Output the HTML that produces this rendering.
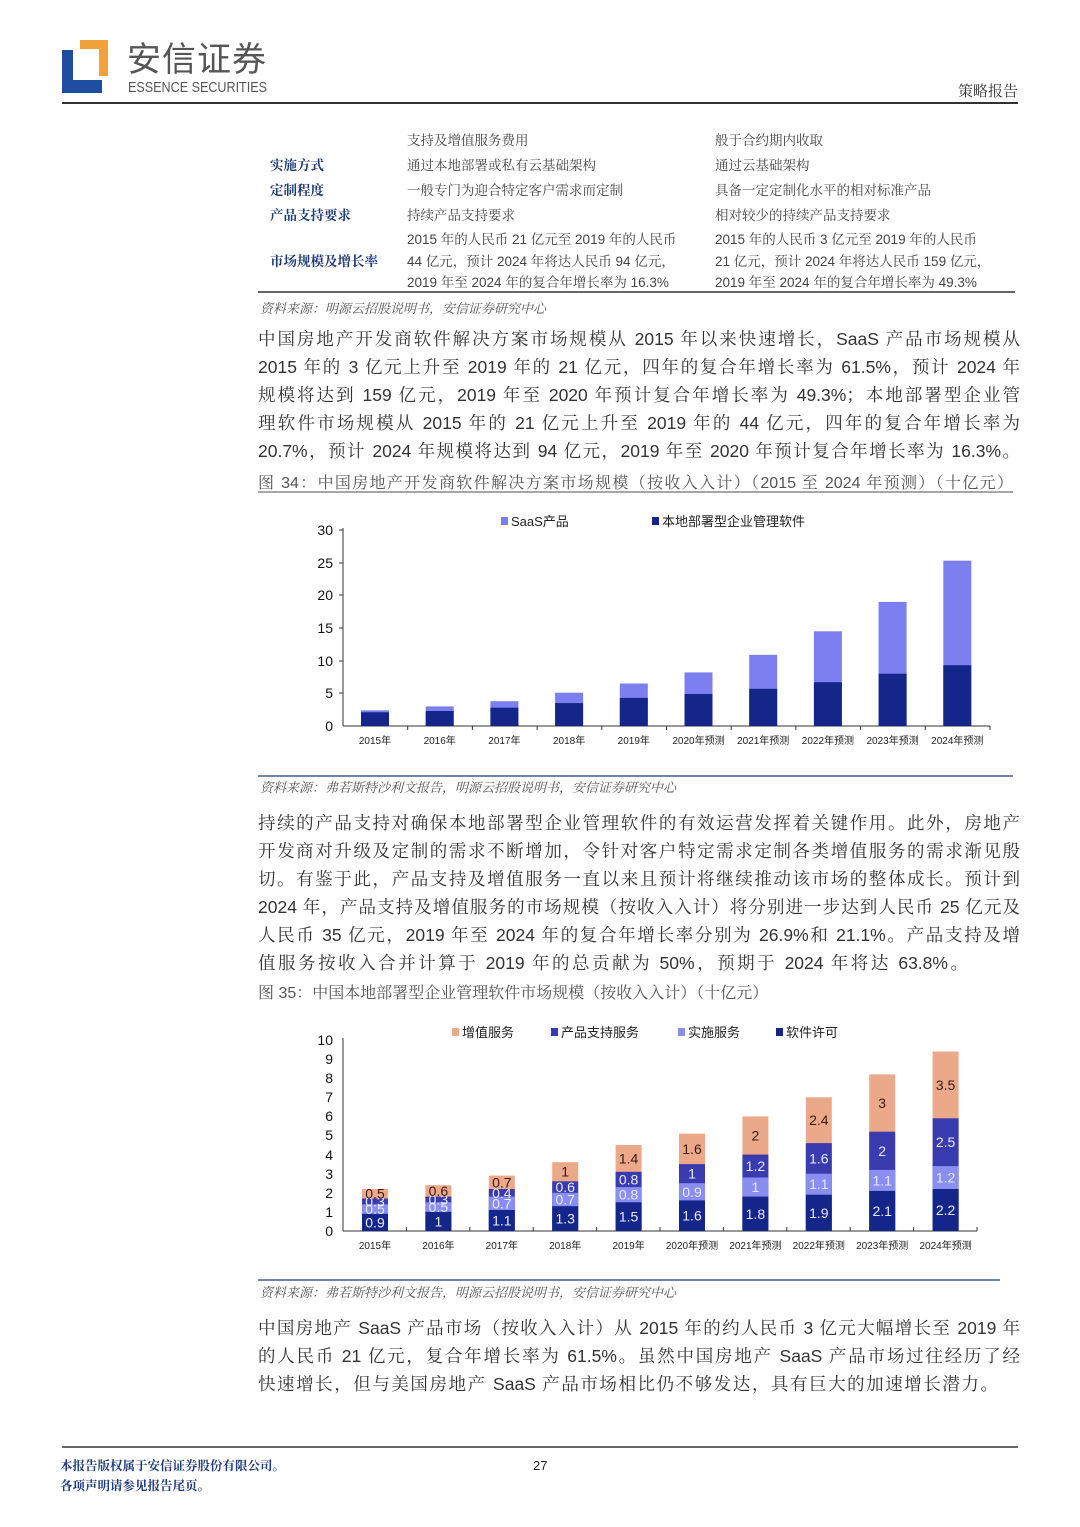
<!DOCTYPE html>
<html><head><meta charset="utf-8">
<style>
*{margin:0;padding:0;box-sizing:border-box}
body{width:1080px;height:1527px;position:relative;background:#fff;font-family:"Liberation Sans","Noto Serif CJK SC","Noto Sans CJK SC",sans-serif;color:#333;overflow:hidden}
.a{position:absolute;white-space:nowrap}
.p{position:absolute;left:258px;width:762px;font-size:17.5px;line-height:28px;color:#333;text-align:justify;text-align-last:justify;white-space:nowrap}
.t{font-size:13.5px;color:#444}
.h{font-size:13.5px;color:#1f3a7a;font-weight:bold}
.src{font-size:13px;color:#555;font-style:italic}
.cap{font-size:16px;color:#555}
svg{position:absolute;left:0;top:0}
</style></head><body>
<svg width="1080" height="1527" xmlns="http://www.w3.org/2000/svg" font-family="Liberation Sans, Noto Sans CJK SC, sans-serif">
<rect x="62" y="80" width="40" height="13" fill="#1f4ea0"/>
<rect x="62" y="50" width="11" height="43" fill="#1f4ea0"/>
<rect x="80" y="40" width="28" height="9" fill="#f2a23a"/>
<rect x="99" y="40" width="9" height="36" fill="#f2a23a"/>
<line x1="62" y1="103" x2="1018" y2="103" stroke="#333" stroke-width="2"/>
<line x1="258" y1="292" x2="1015" y2="292" stroke="#333" stroke-width="1.5"/>
<line x1="258" y1="492" x2="1013" y2="492" stroke="#888" stroke-width="1.5"/>
<line x1="258" y1="776" x2="1013" y2="776" stroke="#1f3a7a" stroke-width="1.2"/>
<line x1="258" y1="1280" x2="1000" y2="1280" stroke="#1f3a7a" stroke-width="1.2"/>
<line x1="62" y1="1447" x2="1018" y2="1447" stroke="#333" stroke-width="1.5"/>

<g font-size="14" fill="#111" text-anchor="end">
<text x="333" y="535">30</text><text x="333" y="568">25</text><text x="333" y="600">20</text><text x="333" y="633">15</text><text x="333" y="666">10</text><text x="333" y="698">5</text><text x="333" y="731">0</text>
</g>
<line x1="343" y1="528" x2="343" y2="726" stroke="#333"/>
<line x1="343" y1="726" x2="990" y2="726" stroke="#333"/>
<g stroke="#333">
<line x1="339" y1="530" x2="343" y2="530"/><line x1="339" y1="563" x2="343" y2="563"/><line x1="339" y1="595" x2="343" y2="595"/><line x1="339" y1="628" x2="343" y2="628"/><line x1="339" y1="661" x2="343" y2="661"/><line x1="339" y1="693" x2="343" y2="693"/>
<line x1="407.7" y1="726" x2="407.7" y2="730"/><line x1="472.4" y1="726" x2="472.4" y2="730"/><line x1="537.1" y1="726" x2="537.1" y2="730"/><line x1="601.8" y1="726" x2="601.8" y2="730"/><line x1="666.5" y1="726" x2="666.5" y2="730"/><line x1="731.2" y1="726" x2="731.2" y2="730"/><line x1="795.9" y1="726" x2="795.9" y2="730"/><line x1="860.6" y1="726" x2="860.6" y2="730"/><line x1="925.3" y1="726" x2="925.3" y2="730"/><line x1="990" y1="726" x2="990" y2="730"/>
</g>
<g fill="#7b7ff0">
<rect x="361" y="710.3" width="28" height="15.7"/><rect x="425.7" y="706.4" width="28" height="19.6"/><rect x="490.4" y="701.2" width="28" height="24.8"/><rect x="555.1" y="692.7" width="28" height="33.3"/><rect x="619.8" y="683.5" width="28" height="42.5"/><rect x="684.5" y="672.4" width="28" height="53.6"/><rect x="749.2" y="654.8" width="28" height="71.2"/><rect x="813.9" y="631.3" width="28" height="94.7"/><rect x="878.6" y="601.9" width="28" height="124.1"/><rect x="943.3" y="560.7" width="28" height="165.3"/>
</g>
<g fill="#14268a">
<rect x="361" y="712.3" width="28" height="13.7"/><rect x="425.7" y="711" width="28" height="15"/><rect x="490.4" y="707.7" width="28" height="18.3"/><rect x="555.1" y="703.1" width="28" height="22.9"/><rect x="619.8" y="697.9" width="28" height="28.1"/><rect x="684.5" y="694" width="28" height="32"/><rect x="749.2" y="688.8" width="28" height="37.2"/><rect x="813.9" y="682.2" width="28" height="43.8"/><rect x="878.6" y="673.7" width="28" height="52.3"/><rect x="943.3" y="665.2" width="28" height="60.8"/>
</g>
<g font-size="10" fill="#222" text-anchor="middle">
<text x="375" y="744">2015年</text><text x="439.7" y="744">2016年</text><text x="504.4" y="744">2017年</text><text x="569.1" y="744">2018年</text><text x="633.8" y="744">2019年</text><text x="698.5" y="744">2020年预测</text><text x="763.2" y="744">2021年预测</text><text x="827.9" y="744">2022年预测</text><text x="892.6" y="744">2023年预测</text><text x="957.3" y="744">2024年预测</text>
</g>
<rect x="501" y="517" width="7" height="8" fill="#7b7ff0"/>
<text x="511" y="526" font-size="13" fill="#222">SaaS产品</text>
<rect x="652" y="517" width="7" height="8" fill="#14268a"/>
<text x="662" y="526" font-size="13" fill="#222">本地部署型企业管理软件</text>

<g font-size="14" fill="#111" text-anchor="end">
<text x="333" y="1045">10</text><text x="333" y="1064">9</text><text x="333" y="1083">8</text><text x="333" y="1102">7</text><text x="333" y="1121">6</text><text x="333" y="1140">5</text><text x="333" y="1160">4</text><text x="333" y="1179">3</text><text x="333" y="1198">2</text><text x="333" y="1217">1</text><text x="333" y="1236">0</text>
</g>
<line x1="343" y1="1038" x2="343" y2="1231" stroke="#333"/>
<line x1="343" y1="1231" x2="977" y2="1231" stroke="#333"/>
<g stroke="#333">
<line x1="406.4" y1="1231" x2="406.4" y2="1227"/><line x1="469.8" y1="1231" x2="469.8" y2="1227"/><line x1="533.2" y1="1231" x2="533.2" y2="1227"/><line x1="596.6" y1="1231" x2="596.6" y2="1227"/><line x1="660" y1="1231" x2="660" y2="1227"/><line x1="723.4" y1="1231" x2="723.4" y2="1227"/><line x1="786.8" y1="1231" x2="786.8" y2="1227"/><line x1="850.2" y1="1231" x2="850.2" y2="1227"/><line x1="913.6" y1="1231" x2="913.6" y2="1227"/><line x1="977" y1="1231" x2="977" y2="1227"/>
</g>
<g fill="#eba98a">
<rect x="362" y="1189" width="26" height="42"/><rect x="425.4" y="1185.2" width="26" height="45.8"/><rect x="488.8" y="1175.6" width="26" height="55.4"/><rect x="552.2" y="1162.2" width="26" height="68.8"/><rect x="615.6" y="1145" width="26" height="86"/><rect x="679" y="1133.6" width="26" height="97.4"/><rect x="742.4" y="1116.4" width="26" height="114.6"/><rect x="805.8" y="1097.3" width="26" height="133.7"/><rect x="869.2" y="1074.4" width="26" height="156.6"/><rect x="932.6" y="1051.5" width="26" height="179.5"/>
</g>
<g fill="#3b3bb0">
<rect x="362" y="1198.5" width="26" height="32.5"/><rect x="425.4" y="1196.6" width="26" height="34.4"/><rect x="488.8" y="1189" width="26" height="42"/><rect x="552.2" y="1181.3" width="26" height="49.7"/><rect x="615.6" y="1171.8" width="26" height="59.2"/><rect x="679" y="1164.1" width="26" height="66.9"/><rect x="742.4" y="1154.6" width="26" height="76.4"/><rect x="805.8" y="1143.1" width="26" height="87.9"/><rect x="869.2" y="1131.7" width="26" height="99.3"/><rect x="932.6" y="1118.3" width="26" height="112.7"/>
</g>
<g fill="#8a8ef0">
<rect x="362" y="1204.3" width="26" height="26.7"/><rect x="425.4" y="1202.3" width="26" height="28.7"/><rect x="488.8" y="1196.6" width="26" height="34.4"/><rect x="552.2" y="1192.8" width="26" height="38.2"/><rect x="615.6" y="1187.1" width="26" height="43.9"/><rect x="679" y="1183.2" width="26" height="47.8"/><rect x="742.4" y="1177.5" width="26" height="53.5"/><rect x="805.8" y="1173.7" width="26" height="57.3"/><rect x="869.2" y="1169.9" width="26" height="61.1"/><rect x="932.6" y="1166.1" width="26" height="64.9"/>
</g>
<g fill="#14268a">
<rect x="362" y="1213.8" width="26" height="17.2"/><rect x="425.4" y="1211.9" width="26" height="19.1"/><rect x="488.8" y="1210" width="26" height="21"/><rect x="552.2" y="1206.2" width="26" height="24.8"/><rect x="615.6" y="1202.3" width="26" height="28.7"/><rect x="679" y="1200.4" width="26" height="30.6"/><rect x="742.4" y="1196.6" width="26" height="34.4"/><rect x="805.8" y="1194.7" width="26" height="36.3"/><rect x="869.2" y="1190.9" width="26" height="40.1"/><rect x="932.6" y="1189" width="26" height="42"/>
</g>
<g font-size="14" text-anchor="middle" fill="#e8eaff">
<text x="375" y="1227.4">0.9</text><text x="375" y="1214">0.5</text><text x="375" y="1206.4">0.3</text>
<text x="438.4" y="1226.4">1</text><text x="438.4" y="1212.1">0.5</text><text x="438.4" y="1204.4">0.3</text>
<text x="501.8" y="1225.5">1.1</text><text x="501.8" y="1208.3">0.7</text><text x="501.8" y="1197.8">0.4</text>
<text x="565.2" y="1223.6">1.3</text><text x="565.2" y="1204.5">0.7</text><text x="565.2" y="1192">0.6</text>
<text x="628.6" y="1221.7">1.5</text><text x="628.6" y="1199.7">0.8</text><text x="628.6" y="1184.4">0.8</text>
<text x="692" y="1220.7">1.6</text><text x="692" y="1196.8">0.9</text><text x="692" y="1178.6">1</text>
<text x="755.4" y="1218.8">1.8</text><text x="755.4" y="1192">1</text><text x="755.4" y="1171">1.2</text>
<text x="818.8" y="1217.8">1.9</text><text x="818.8" y="1189.2">1.1</text><text x="818.8" y="1163.4">1.6</text>
<text x="882.2" y="1215.9">2.1</text><text x="882.2" y="1185.4">1.1</text><text x="882.2" y="1155.8">2</text>
<text x="945.6" y="1215">2.2</text><text x="945.6" y="1182.5">1.2</text><text x="945.6" y="1147.2">2.5</text>
</g>
<g font-size="14" text-anchor="middle" fill="#3a1a10">
<text x="375" y="1198.7">0.5</text><text x="438.4" y="1195.9">0.6</text><text x="501.8" y="1187.3">0.7</text><text x="565.2" y="1176.7">1</text><text x="628.6" y="1163.4">1.4</text><text x="692" y="1153.8">1.6</text><text x="755.4" y="1140.5">2</text><text x="818.8" y="1125.2">2.4</text><text x="882.2" y="1108">3</text><text x="945.6" y="1089.9">3.5</text>
</g>
<g font-size="10" fill="#222" text-anchor="middle">
<text x="375" y="1249">2015年</text><text x="438.4" y="1249">2016年</text><text x="501.8" y="1249">2017年</text><text x="565.2" y="1249">2018年</text><text x="628.6" y="1249">2019年</text><text x="692" y="1249">2020年预测</text><text x="755.4" y="1249">2021年预测</text><text x="818.8" y="1249">2022年预测</text><text x="882.2" y="1249">2023年预测</text><text x="945.6" y="1249">2024年预测</text>
</g>
<rect x="452" y="1028" width="7" height="8" fill="#eba98a"/><text x="462" y="1037" font-size="13" fill="#222">增值服务</text>
<rect x="551" y="1028" width="7" height="8" fill="#3b3bb0"/><text x="561" y="1037" font-size="13" fill="#222">产品支持服务</text>
<rect x="678" y="1028" width="7" height="8" fill="#8a8ef0"/><text x="688" y="1037" font-size="13" fill="#222">实施服务</text>
<rect x="776" y="1028" width="7" height="8" fill="#14268a"/><text x="786" y="1037" font-size="13" fill="#222">软件许可</text>
<text x="128" y="92" font-size="15" fill="#555" textLength="139" lengthAdjust="spacingAndGlyphs">ESSENCE SECURITIES</text>
</svg>

<div class="a" style="left:127px;top:38px;font-size:34px;line-height:38px;font-family:'Noto Sans CJK SC',sans-serif;color:#555;letter-spacing:1px">安信证券</div>
<div class="a" style="left:958px;top:80px;font-size:15px;color:#333">策略报告</div>

<div class="a t" style="left:407px;top:129px">支持及增值服务费用</div>
<div class="a t" style="left:715px;top:129px">般于合约期内收取</div>
<div class="a h" style="left:270px;top:154px">实施方式</div>
<div class="a t" style="left:407px;top:154px">通过本地部署或私有云基础架构</div>
<div class="a t" style="left:715px;top:154px">通过云基础架构</div>
<div class="a h" style="left:270px;top:179px">定制程度</div>
<div class="a t" style="left:407px;top:179px">一般专门为迎合特定客户需求而定制</div>
<div class="a t" style="left:715px;top:179px">具备一定定制化水平的相对标准产品</div>
<div class="a h" style="left:270px;top:204px">产品支持要求</div>
<div class="a t" style="left:407px;top:204px">持续产品支持要求</div>
<div class="a t" style="left:715px;top:204px">相对较少的持续产品支持要求</div>
<div class="a h" style="left:270px;top:250px">市场规模及增长率</div>
<div class="a t" style="left:407px;top:229px;line-height:21.5px">2015 年的人民币 21 亿元至 2019 年的人民币<br>44 亿元，预计 2024 年将达人民币 94 亿元，<br>2019 年至 2024 年的复合年增长率为 16.3%</div>
<div class="a t" style="left:715px;top:229px;line-height:21.5px">2015 年的人民币 3 亿元至 2019 年的人民币<br>21 亿元，预计 2024 年将达人民币 159 亿元，<br>2019 年至 2024 年的复合年增长率为 49.3%</div>
<div class="a src" style="left:260px;top:298px">资料来源：明源云招股说明书，安信证券研究中心</div>

<div class="p" style="top:325px">中国房地产开发商软件解决方案市场规模从 2015 年以来快速增长，SaaS 产品市场规模从</div>
<div class="p" style="top:353px">2015 年的 3 亿元上升至 2019 年的 21 亿元，四年的复合年增长率为 61.5%，预计 2024 年</div>
<div class="p" style="top:381px">规模将达到 159 亿元，2019 年至 2020 年预计复合年增长率为 49.3%；本地部署型企业管</div>
<div class="p" style="top:409px">理软件市场规模从 2015 年的 21 亿元上升至 2019 年的 44 亿元，四年的复合年增长率为</div>
<div class="p" style="top:437px">20.7%，预计 2024 年规模将达到 94 亿元，2019 年至 2020 年预计复合年增长率为 16.3%。</div>
<div class="a cap" style="left:258px;top:470px;width:755px;text-align:justify;text-align-last:justify">图 34：中国房地产开发商软件解决方案市场规模（按收入入计）（2015 至 2024 年预测）（十亿元）</div>

<div class="a src" style="left:260px;top:777px">资料来源：弗若斯特沙利文报告，明源云招股说明书，安信证券研究中心</div>

<div class="p" style="top:809px">持续的产品支持对确保本地部署型企业管理软件的有效运营发挥着关键作用。此外，房地产</div>
<div class="p" style="top:837px">开发商对升级及定制的需求不断增加，令针对客户特定需求定制各类增值服务的需求渐见殷</div>
<div class="p" style="top:865px">切。有鉴于此，产品支持及增值服务一直以来且预计将继续推动该市场的整体成长。预计到</div>
<div class="p" style="top:893px">2024 年，产品支持及增值服务的市场规模（按收入入计）将分别进一步达到人民币 25 亿元及</div>
<div class="p" style="top:921px">人民币 35 亿元，2019 年至 2024 年的复合年增长率分别为 26.9%和 21.1%。产品支持及增</div>
<div class="p" style="top:949px;width:710px">值服务按收入合并计算于 2019 年的总贡献为 50%，预期于 2024 年将达 63.8%。</div>
<div class="a cap" style="left:258px;top:980px">图 35：中国本地部署型企业管理软件市场规模（按收入入计）（十亿元）</div>

<div class="a src" style="left:260px;top:1282px">资料来源：弗若斯特沙利文报告，明源云招股说明书，安信证券研究中心</div>

<div class="p" style="top:1314px">中国房地产 SaaS 产品市场（按收入入计）从 2015 年的约人民币 3 亿元大幅增长至 2019 年</div>
<div class="p" style="top:1342px">的人民币 21 亿元，复合年增长率为 61.5%。虽然中国房地产 SaaS 产品市场过往经历了经</div>
<div class="p" style="top:1370px;width:740px">快速增长，但与美国房地产 SaaS 产品市场相比仍不够发达，具有巨大的加速增长潜力。</div>

<div class="a" style="left:60px;top:1456px;font-size:12.5px;font-weight:bold;color:#1f3a7a;line-height:20px">本报告版权属于安信证券股份有限公司。<br>各项声明请参见报告尾页。</div>
<div class="a" style="left:533px;top:1458px;font-size:13px;color:#222">27</div>
</body></html>
